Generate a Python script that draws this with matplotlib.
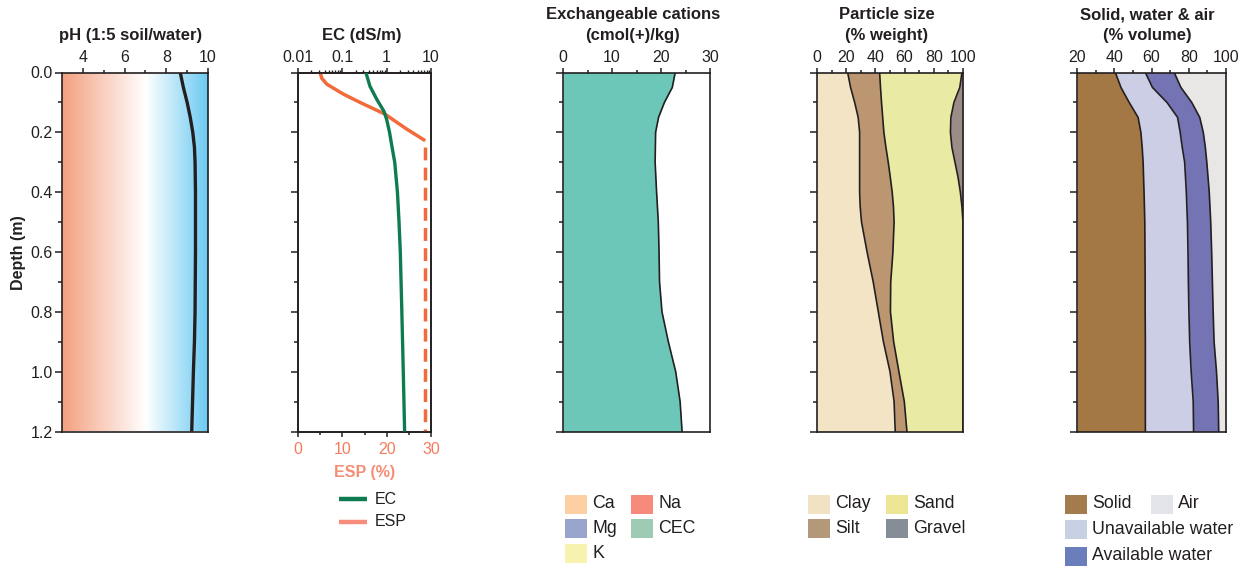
import numpy as np
import matplotlib
matplotlib.use("Agg")
import matplotlib.pyplot as plt
from matplotlib.colors import LinearSegmentedColormap
from matplotlib.lines import Line2D
from matplotlib.patches import Rectangle
from matplotlib.ticker import FixedLocator, NullFormatter

plt.rcParams['font.family'] = ['Liberation Sans', 'DejaVu Sans']
TXT = '#231F20'

# ---------------- data ----------------
ph_depth = [0.0, 0.05, 0.1, 0.15, 0.2, 0.25, 0.3, 0.4, 0.5, 0.6, 0.7, 0.8, 0.9, 1.0, 1.1, 1.2]
ph_value = [8.67, 8.82, 9.00, 9.15, 9.27, 9.35, 9.38, 9.40, 9.40, 9.40, 9.39, 9.38, 9.35, 9.30, 9.26, 9.22]

ec_depth = [0.0, 0.046, 0.09, 0.13, 0.157, 0.2, 0.246, 0.3, 0.4, 0.5, 0.6, 0.8, 1.0, 1.2]
ec_value = [0.34, 0.42, 0.60, 0.87, 1.0, 1.16, 1.31, 1.52, 1.75, 1.90, 2.03, 2.20, 2.37, 2.54]

esp_depth = [0.0, 0.019, 0.039, 0.072, 0.1, 0.139, 0.189, 0.228]
esp_value = [5.0, 5.35, 6.5, 10.2, 14.0, 19.6, 24.5, 28.7]
esp_est_depth = [0.25, 1.2]
esp_est_value = [28.7, 28.7]

cat_depth = [0.0, 0.05, 0.1, 0.15, 0.2, 0.3, 0.4, 0.5, 0.6, 0.7, 0.8, 0.9, 1.0, 1.1, 1.2]
cec_value = [22.9, 22.3, 20.7, 19.5, 18.9, 18.8, 19.1, 19.45, 19.6, 19.7, 20.2, 21.5, 23.0, 23.9, 24.3]

ps_depth = [0.0, 0.05, 0.1, 0.15, 0.2, 0.25, 0.3, 0.35, 0.4, 0.45, 0.5, 0.6, 0.7, 0.8, 0.9, 1.0, 1.1, 1.2]
clay = [21.0, 23.0, 25.8, 28.2, 29.2, 29.2, 29.2, 29.2, 29.2, 29.6, 30.5, 34.3, 38.5, 42.0, 45.5, 50.0, 52.8, 53.6]
silt = [21.9, 20.5, 18.4, 16.8, 16.6, 18.0, 19.6, 21.0, 22.3, 22.8, 22.3, 17.7, 12.0, 8.3, 7.0, 6.1, 7.0, 8.0]
gravel = [0.7, 2.2, 6.2, 8.3, 8.6, 7.6, 5.5, 3.4, 1.8, 0.7, 0.0, 0.0, 0.0, 0.0, 0.0, 0.0, 0.0, 0.0]
sand = [100 - c - s - g for c, s, g in zip(clay, silt, gravel)]

swa_depth = [0.0, 0.05, 0.1, 0.15, 0.2, 0.25, 0.3, 0.4, 0.5, 0.6, 0.7, 0.8, 0.9, 1.0, 1.1, 1.2]
solid = [40.6, 43.6, 48.0, 52.8, 54.3, 55.0, 55.5, 56.0, 56.4, 56.5, 56.6, 56.6, 56.7, 56.7, 56.7, 56.7]
unavail_top = [56.7, 60.5, 68.3, 74.0, 75.4, 76.5, 77.8, 78.7, 79.3, 79.6, 79.8, 80.1, 80.5, 81.3, 82.4, 82.6]
avail_top = [72.2, 75.8, 81.6, 85.9, 87.8, 88.9, 89.7, 91.0, 91.8, 92.3, 92.7, 93.1, 93.6, 94.9, 95.8, 96.1]
unavail_water = [u - s for u, s in zip(unavail_top, solid)]
avail_water = [a - u for a, u in zip(avail_top, unavail_top)]

depth_ticks = [0.0, 0.2, 0.4, 0.6, 0.8, 1.0, 1.2]
depth_minor = [0.1, 0.3, 0.5, 0.7, 0.9, 1.1]

# ---------------- layout helpers ----------------
W, H = 1250, 569
fig = plt.figure(figsize=(W / 100, H / 100), dpi=100)
TOP, BOT = 72.5, 431.5


def fx(x):
    return x / W


def fy(y):
    return 1 - y / H


def make_ax(x0, x1):
    ax = fig.add_axes([fx(x0), fy(BOT), (x1 - x0) / W, (BOT - TOP) / H])
    for s in ax.spines.values():
        s.set_linewidth(1.2)
        s.set_color(TXT)
    ax.set_ylim(1.2, 0)
    ax.set_yticks(depth_ticks)
    ax.yaxis.set_minor_locator(FixedLocator(depth_minor))
    ax.tick_params(axis='y', which='major', direction='out', length=5.2, width=1.1,
                   color=TXT, labelsize=11.5, labelcolor=TXT, pad=1.5)
    ax.tick_params(axis='y', which='minor', direction='out', length=3, width=1.1, color=TXT)
    ax.xaxis.set_ticks_position('top')
    ax.tick_params(axis='x', which='major', direction='out', length=3.8, width=1.1,
                   color=TXT, labelsize=11.5, labelcolor=TXT, pad=1.5)
    ax.tick_params(axis='x', which='minor', direction='out', length=2.4, width=1.1, color=TXT)
    return ax


def title(cx, lines):
    ys = [40] if len(lines) == 1 else [19, 40]
    for t, y in zip(lines, ys):
        fig.text(fx(cx), fy(y), t, ha='center', va='baseline', fontsize=12,
                 fontweight='bold', color=TXT)


def patch(x, yc, color, label, w=22, h=19):
    fig.add_artist(Rectangle((fx(x), fy(yc + h / 2)), w / W, h / H,
                             transform=fig.transFigure, facecolor=color, edgecolor='none'))
    fig.text(fx(x + w + 5), fy(yc), label, ha='left', va='center', fontsize=12.8, color=TXT)


# ---------------- pH ----------------
ax1 = make_ax(62, 208)
cmap = LinearSegmentedColormap.from_list(
    'ph', [(0.0, '#F4A080'), (0.575, '#FFFFFF'), (1.0, '#6CCAF2')])
grad = np.linspace(0, 1, 512).reshape(1, -1)
ax1.imshow(grad, extent=[3, 10, 1.2, 0], aspect='auto', cmap=cmap, zorder=0)
ax1.plot(ph_value, ph_depth, color=TXT, lw=2.4, solid_capstyle='butt', zorder=3)
ax1.set_xlim(3, 10)
ax1.set_ylim(1.2, 0)
ax1.set_xticks([4, 6, 8, 10])
ax1.xaxis.set_minor_locator(FixedLocator([5, 7, 9]))
ax1.set_yticklabels([f'{v:.1f}' for v in depth_ticks])
title(131, ['pH (1:5 soil/water)'])
fig.text(fx(18.5), fy(253), 'Depth (m)', rotation=90, ha='center', va='center',
         fontsize=11.5, fontweight='bold', color=TXT)

# ---------------- EC / ESP ----------------
ESP_C = '#F26B3A'
ax2 = make_ax(298, 431)
ax2.set_xlim(0, 30)
ax2.xaxis.set_ticks_position('bottom')
ax2.set_xticks([0, 10, 20, 30])
ax2.xaxis.set_minor_locator(FixedLocator([5, 15, 25]))
ax2.tick_params(axis='x', which='major', labelcolor='#F47B5C', pad=4)
ax2.set_yticklabels([])
ax2.plot(esp_value, esp_depth, color=ESP_C, lw=2.5, solid_capstyle='butt', zorder=3)
ax2.plot(esp_est_value, esp_est_depth, color=ESP_C, lw=2.5, linestyle=(0, (3.7, 2.1)),
         dash_capstyle='butt', zorder=3)
fig.text(fx(364.5), fy(477), 'ESP (%)', ha='center', va='baseline', fontsize=11.5,
         fontweight='bold', color='#F58D74')

ax2b = ax2.twiny()
ax2b.set_xscale('log')
ax2b.set_xlim(0.01, 10)
ax2b.set_xticks([0.01, 0.1, 1, 10])
ax2b.set_xticklabels(['0.01', '0.1', '1', '10'])
ax2b.xaxis.set_minor_formatter(NullFormatter())
ax2b.tick_params(axis='x', which='major', direction='out', length=3.8, width=1.1,
                 color=TXT, labelsize=11.5, labelcolor=TXT, pad=1.5)
ax2b.tick_params(axis='x', which='minor', direction='out', length=2.4, width=1.0, color=TXT)
for s in ax2b.spines.values():
    s.set_linewidth(1.2)
    s.set_color(TXT)
ax2b.plot(ec_value, ec_depth, color='#0E7C50', lw=2.4, solid_capstyle='butt', zorder=3)
title(361.5, ['EC (dS/m)'])

fig.add_artist(Line2D([fx(339), fx(367)], [fy(499), fy(499)], color='#0E7C50', lw=3.2,
                      transform=fig.transFigure, solid_capstyle='butt'))
fig.add_artist(Line2D([fx(339), fx(367)], [fy(522), fy(522)], color='#F68C7C', lw=3.2,
                      transform=fig.transFigure, solid_capstyle='butt'))
fig.text(fx(375), fy(499), 'EC', ha='left', va='center', fontsize=11.5, color=TXT)
fig.text(fx(375), fy(522), 'ESP', ha='left', va='center', fontsize=11.5, color=TXT)

# ---------------- Exchangeable cations ----------------
ax3 = make_ax(563, 710)
ax3.set_xlim(0, 30)
ax3.set_xticks([0, 10, 20, 30])
ax3.xaxis.set_minor_locator(FixedLocator([5, 15, 25]))
ax3.set_yticklabels([])
ax3.fill_betweenx(cat_depth, 0, cec_value, color='#6CC7B8', lw=0, zorder=1)
ax3.plot(cec_value, cat_depth, color=TXT, lw=1.2, zorder=2)
title(633, ['Exchangeable cations', '(cmol(+)/kg)'])

patch(565, 504, '#FDCFA5', 'Ca')
patch(631, 504, '#F68B7B', 'Na')
patch(565, 528.5, '#9AA5CE', 'Mg')
patch(631, 528.5, '#9DCBB3', 'CEC')
patch(565, 553, '#F8F2B0', 'K')

# ---------------- Particle size ----------------
ax4 = make_ax(817, 963)
ax4.set_xlim(0, 100)
ax4.set_xticks([0, 20, 40, 60, 80, 100])
ax4.xaxis.set_minor_locator(FixedLocator([10, 30, 50, 70, 90]))
ax4.set_yticklabels([])
c1 = np.array(clay)
c2 = c1 + np.array(silt)
c3 = c2 + np.array(sand)
ax4.fill_betweenx(ps_depth, 0, c1, color='#F2E4C5', lw=0, zorder=1)
ax4.fill_betweenx(ps_depth, c1, c2, color='#BB9670', lw=0, zorder=1)
ax4.fill_betweenx(ps_depth, c2, c3, color='#E9EBA4', lw=0, zorder=1)
ax4.fill_betweenx(ps_depth, c3, 100, color='#9B8C87', lw=0, zorder=1)
for b in (c1, c2, c3):
    ax4.plot(b, ps_depth, color=TXT, lw=1.2, zorder=2)
title(887, ['Particle size', '(% weight)'])

patch(808, 504, '#F2E2C4', 'Clay')
patch(886, 504, '#ECE594', 'Sand')
patch(808, 528.5, '#B39879', 'Silt')
patch(886, 528.5, '#858E96', 'Gravel')

# ---------------- Solid, water & air ----------------
ax5 = make_ax(1077, 1226)
ax5.set_xlim(20, 100)
ax5.set_xticks([20, 40, 60, 80, 100])
ax5.xaxis.set_minor_locator(FixedLocator([30, 50, 70, 90]))
ax5.set_yticklabels([])
s1 = np.array(solid)
s2 = s1 + np.array(unavail_water)
s3 = s2 + np.array(avail_water)
ax5.fill_betweenx(swa_depth, 20, s1, color='#A47844', lw=0, zorder=1)
ax5.fill_betweenx(swa_depth, s1, s2, color='#CCCEE6', lw=0, zorder=1)
ax5.fill_betweenx(swa_depth, s2, s3, color='#7474B4', lw=0, zorder=1)
ax5.fill_betweenx(swa_depth, s3, 100, color='#E9E6E6', lw=0, zorder=1)
for b in (s1, s2, s3):
    ax5.plot(b, swa_depth, color=TXT, lw=1.2, zorder=2)
title(1147, ['Solid, water & air', '(% volume)'])

patch(1065, 504, '#A47B4C', 'Solid')
patch(1151, 504, '#E4E5EB', 'Air')
patch(1065, 529, '#C8D0E4', 'Unavailable water')
patch(1065, 556, '#6A7EBC', 'Available water')

fig.savefig('out.png', dpi=100)
